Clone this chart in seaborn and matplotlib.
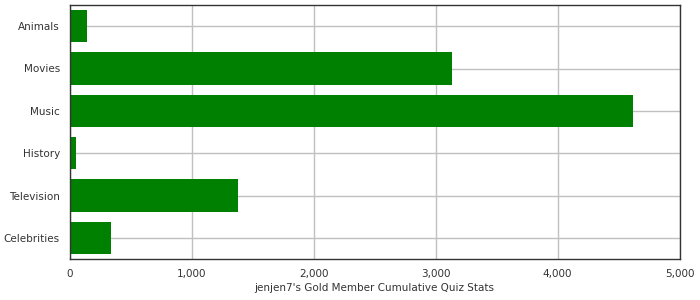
import matplotlib
matplotlib.use("Agg")
import matplotlib.pyplot as plt
import seaborn as sns
import pandas as pd
from matplotlib.ticker import FuncFormatter

categories = ["Animals", "Movies", "Music", "History", "Television", "Celebrities"]
values = [145, 3133, 4616, 53, 1381, 340]
xticks = [0, 1000, 2000, 3000, 4000, 5000]
xlabel = "jenjen7's Gold Member Cumulative Quiz Stats"

df = pd.DataFrame({"category": categories, "value": values})

sns.set_style("white")
plt.rcParams['font.family'] = ['DejaVu Sans']

fig = plt.figure(figsize=(7, 3), dpi=100)
ax = fig.add_axes([69.5/700, 41/300, 610/700, 254/300])
sns.barplot(data=df, x="value", y="category", orient="h", color="#008000",
            saturation=1, width=0.77, linewidth=0, edgecolor="none", ax=ax, zorder=2)
ax.set_xlim(0, 5000)
ax.set_ylim(5.5, -0.5)
ax.set_xticks(xticks)
ax.xaxis.set_major_formatter(FuncFormatter(lambda v, p: f"{int(v):,}"))
ax.grid(True, color="#c0c0c0", linewidth=1, zorder=0)
ax.set_axisbelow(True)
for s in ax.spines.values():
    s.set_color("#333333")
    s.set_linewidth(1)
ax.tick_params(axis="both", direction="out", length=4, width=1, color="#333333",
               labelsize=7.5, labelcolor="#333333", pad=3)
ax.set_ylabel("")
ax.set_xlabel(xlabel, fontsize=7.5, color="#333333", labelpad=3)
fig.savefig("out.png", dpi=100)
